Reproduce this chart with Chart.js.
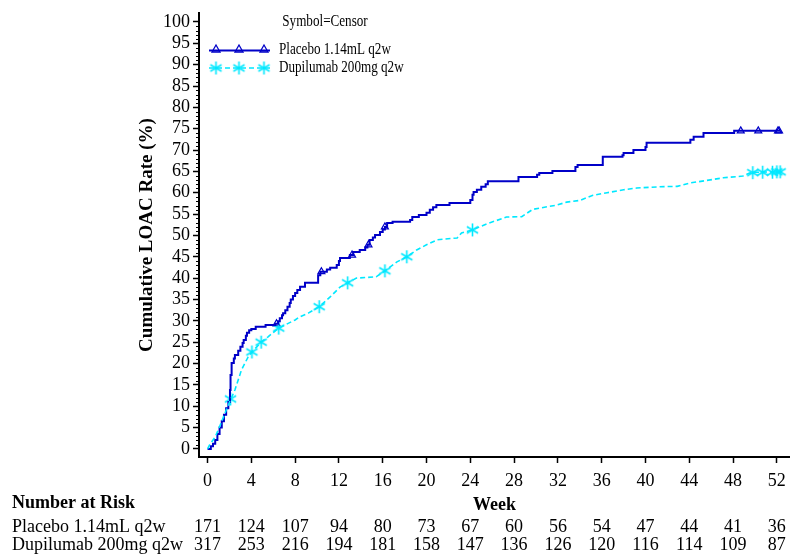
<!DOCTYPE html>
<html>
<head>
<meta charset="utf-8">
<script src="https://cdn.jsdelivr.net/npm/chart.js@4.4.1/dist/chart.umd.min.js"></script>
<style>
  html, body { margin: 0; padding: 0; background: #fff; }
  #wrap { width: 790px; height: 556px; position: relative; }
</style>
</head>
<body>
<div id="wrap"><canvas id="km"></canvas></div>
<script>
// axis ticks
const weekTicks = [0, 4, 8, 12, 16, 20, 24, 28, 32, 36, 40, 44, 48, 52];
const pctTicks = [0, 5, 10, 15, 20, 25, 30, 35, 40, 45, 50, 55, 60, 65, 70, 75, 80, 85, 90, 95, 100];

const placeboLabel = 'Placebo 1.14mL q2w';
const dupiLabel = 'Dupilumab 200mg q2w';

// [week, cumulative %] at each event time
const placeboSteps = [
  [0, 0], [0.3, 0.6], [0.5, 1.2], [0.7, 2.1], [0.9, 3.5], [1.1, 5.0], [1.3, 6.5], [1.5, 8.0],
  [1.7, 9.5], [1.9, 11.0], [2.05, 13.8], [2.1, 17.3], [2.2, 20.1], [2.4, 21.2], [2.5, 22.0],
  [2.8, 23.0], [3.0, 23.9], [3.2, 24.8], [3.3, 25.5], [3.5, 26.5], [3.6, 27.2], [3.8, 27.8],
  [4.0, 28.1], [4.4, 28.6], [5.3, 29.0], [6.2, 29.3], [6.45, 29.9], [6.6, 30.6], [6.8, 31.3],
  [6.9, 31.8], [7.1, 32.5], [7.3, 33.3], [7.5, 34.2], [7.6, 35.0], [7.8, 35.8], [8.0, 36.5],
  [8.2, 37.2], [8.45, 38.0], [8.9, 38.9], [10.1, 40.7], [10.3, 41.5], [10.9, 42.0], [11.2, 42.4],
  [11.8, 43.1], [12.0, 44.0], [12.1, 44.7], [13.0, 45.4], [13.3, 46.1], [13.9, 46.6], [14.4, 47.2],
  [14.6, 47.8], [14.8, 48.9], [15.1, 49.5], [15.3, 50.1], [15.75, 50.8], [16.0, 51.4], [16.2, 52.0],
  [16.4, 52.9], [16.9, 53.2], [18.5, 53.6], [18.7, 54.3], [19.3, 54.8], [20.0, 55.3], [20.3, 56.0],
  [20.6, 56.6], [20.9, 57.1], [22.1, 57.6], [24.0, 58.3], [24.2, 59.5], [24.3, 60.2], [24.6, 60.7],
  [25.0, 61.4], [25.4, 62.0], [25.6, 62.7], [28.4, 63.7], [30.1, 64.2], [30.3, 64.6], [31.5, 65.1],
  [33.6, 66.0], [33.8, 66.5], [36.1, 68.4], [37.9, 68.8], [38.0, 69.3], [38.9, 70.0], [40.0, 70.7],
  [40.1, 71.7], [44.1, 72.4], [44.4, 73.1], [45.3, 74.0], [48.1, 74.5], [52.3, 74.5]
];

const dupiSteps = [
  [0, 0], [0.2, 1.0], [0.7, 2.8], [1.1, 5.2], [1.6, 8.4], [2.1, 11.5], [2.5, 13.8], [3.1, 18.5],
  [3.7, 21.5], [4.05, 22.7], [4.5, 23.9], [4.9, 25.0], [5.5, 26.2], [6.5, 28.3], [8.0, 30.2],
  [8.4, 30.9], [9.2, 31.8], [10.2, 33.3], [11.2, 35.6], [12.1, 37.9], [12.8, 38.9], [13.6, 40.0],
  [15.4, 40.3], [16.2, 41.7], [17.3, 43.8], [18.2, 45.0], [19.1, 46.6], [20.0, 47.8], [21.0, 49.0],
  [22.8, 49.4], [23.2, 50.6], [24.2, 51.3], [25.5, 52.7], [27.3, 54.3], [28.7, 54.4], [29.7, 56.1],
  [31.0, 56.7], [31.9, 57.1], [32.8, 57.8], [34.0, 58.2], [35.2, 59.4], [36.5, 60.0], [38.0, 60.7],
  [39.2, 61.1], [41.3, 61.4], [42.9, 61.5], [44.1, 62.3], [45.4, 62.8], [47.1, 63.5], [48.9, 63.9],
  [49.5, 64.6], [50.0, 64.8], [52.5, 64.9]
];

// censored observations
const placeboCensor = [
  [6.3, 29.3], [10.4, 41.5], [13.2, 45.4], [14.7, 47.8], [16.2, 52.0],
  [48.7, 74.5], [50.3, 74.5], [52.1, 74.5], [52.2, 74.5]
];
const dupiCensor = [
  [2.1, 11.7], [4.05, 22.7], [4.9, 25.0], [6.5, 28.3], [10.2, 33.3], [12.8, 38.9], [16.2, 41.7],
  [18.2, 45.0], [24.2, 51.3], [49.8, 64.7], [50.7, 64.8], [51.6, 64.8], [52.0, 64.9], [52.3, 64.9]
];

// number at risk at each week tick
const riskPlacebo = [171, 124, 107, 94, 80, 73, 67, 60, 56, 54, 47, 44, 41, 36];
const riskDupi = [317, 253, 216, 194, 181, 158, 147, 136, 126, 120, 116, 114, 109, 87];

const BLUE = '#0000C8';
const CYAN = '#00E8FF';
const FONT = "'Liberation Serif', 'DejaVu Serif', serif";

function makeAsterisk(size, color, lw) {
  const c = document.createElement('canvas');
  c.width = c.height = size;
  const g = c.getContext('2d');
  g.strokeStyle = color;
  g.lineWidth = lw;
  const m = size / 2, r = size / 2 - 1;
  g.beginPath();
  for (let k = 0; k < 3; k++) {
    const a = Math.PI / 2 + k * Math.PI / 3;
    g.moveTo(m + r * Math.cos(a), m + r * Math.sin(a));
    g.lineTo(m - r * Math.cos(a), m - r * Math.sin(a));
  }
  g.stroke();
  return c;
}
const asterisk = makeAsterisk(15, CYAN, 1.6);

function drawTriangle(ctx, x, y, s) {
  ctx.beginPath();
  ctx.moveTo(x, y - s);
  ctx.lineTo(x + s, y + s * 0.75);
  ctx.lineTo(x - s, y + s * 0.75);
  ctx.closePath();
  ctx.stroke();
}

const toXY = arr => arr.map(([x, y]) => ({ x, y }));

const extras = {
  id: 'extras',
  afterDraw(chart) {
    const { ctx, chartArea, scales: { x, y } } = chart;
    ctx.save();

    // minor ticks on the y axis
    ctx.strokeStyle = '#000';
    ctx.lineWidth = 1;
    for (let v = 0; v <= 100; v++) {
      if (v % 5 === 0) continue;
      const py = Math.round(y.getPixelForValue(v)) + 0.5;
      ctx.beginPath();
      ctx.moveTo(chartArea.left - 3, py);
      ctx.lineTo(chartArea.left, py);
      ctx.stroke();
    }

    // legend
    ctx.fillStyle = '#000';
    ctx.textBaseline = 'middle';
    const cond = (txt, tx, ty, align) => {
      ctx.save();
      ctx.translate(tx, ty);
      ctx.scale(0.82, 1);
      ctx.textAlign = align;
      ctx.fillText(txt, 0, 0);
      ctx.restore();
    };
    ctx.font = '16px ' + FONT;
    cond('Symbol=Censor', 325, 22, 'center');
    cond(placeboLabel, 279, 50, 'left');
    cond(dupiLabel, 279, 68, 'left');

    ctx.strokeStyle = BLUE;
    ctx.lineWidth = 2;
    ctx.beginPath();
    ctx.moveTo(209, 50.5);
    ctx.lineTo(270, 50.5);
    ctx.stroke();
    ctx.lineWidth = 1.3;
    [216, 239, 264].forEach(px => drawTriangle(ctx, px, 49, 4));

    ctx.strokeStyle = CYAN;
    ctx.lineWidth = 1.6;
    ctx.setLineDash([5, 3]);
    ctx.beginPath();
    ctx.moveTo(209, 68);
    ctx.lineTo(270, 68);
    ctx.stroke();
    ctx.setLineDash([]);
    [216, 239, 264].forEach(px => ctx.drawImage(asterisk, px - 7.5, 68 - 7.5));

    // x axis title
    ctx.fillStyle = '#000';
    ctx.font = 'bold 18px ' + FONT;
    ctx.textAlign = 'center';
    ctx.fillText('Week', (chartArea.left + chartArea.right) / 2, 505);

    // number at risk table
    ctx.textAlign = 'left';
    ctx.fillText('Number at Risk', 12, 503);
    ctx.font = '18px ' + FONT;
    ctx.fillText(placeboLabel, 12, 527);
    ctx.fillText(dupiLabel, 12, 545);
    ctx.textAlign = 'center';
    weekTicks.forEach((w, i) => {
      const px = x.getPixelForValue(w);
      ctx.fillText(String(riskPlacebo[i]), px, 527);
      ctx.fillText(String(riskDupi[i]), px, 545);
    });
    ctx.restore();
  }
};

new Chart(document.getElementById('km'), {
  type: 'line',
  data: {
    datasets: [
      {
        label: dupiLabel,
        data: toXY(dupiSteps),
        borderColor: CYAN,
        borderWidth: 1.6,
        borderDash: [5, 3],
        pointRadius: 0,
        fill: false
      },
      {
        label: placeboLabel,
        data: toXY(placeboSteps),
        borderColor: BLUE,
        borderWidth: 2,
        stepped: true,
        pointRadius: 0,
        fill: false
      },
      {
        label: 'dupi censor',
        data: toXY(dupiCensor),
        showLine: false,
        pointStyle: asterisk,
        pointRadius: 7
      },
      {
        label: 'placebo censor',
        data: toXY(placeboCensor),
        showLine: false,
        pointStyle: 'triangle',
        pointRadius: 4,
        borderColor: BLUE,
        borderWidth: 1.2,
        backgroundColor: 'rgba(0,0,0,0)'
      }
    ]
  },
  options: {
    responsive: true,
    maintainAspectRatio: false,
    animation: false,
    layout: { autoPadding: false, padding: { top: 13, right: 0, left: 0, bottom: 0 } },
    plugins: {
      legend: { display: false },
      tooltip: { enabled: false }
    },
    scales: {
      x: {
        type: 'linear',
        min: -0.78,
        max: 53.2,
        afterBuildTicks: s => { s.ticks = weekTicks.map(v => ({ value: v })); },
        afterFit: s => { s.height = 99; s.paddingLeft = 0; s.paddingRight = 0; },
        grid: { drawOnChartArea: false, tickLength: 6, tickColor: '#000', tickWidth: 1.5 },
        border: { color: '#000', width: 2 },
        ticks: { color: '#000', font: { family: FONT, size: 18 }, padding: 7, maxRotation: 0, autoSkip: false }
      },
      y: {
        min: -1.9,
        max: 102.1,
        afterBuildTicks: s => { s.ticks = pctTicks.map(v => ({ value: v })); },
        afterFit: s => { s.width = 199; s.paddingTop = 0; s.paddingBottom = 0; },
        grid: { drawOnChartArea: false, tickLength: 6, tickColor: '#000', tickWidth: 1.5 },
        border: { color: '#000', width: 2 },
        ticks: { color: '#000', font: { family: FONT, size: 18 }, padding: 3, autoSkip: false },
        title: {
          display: true,
          text: 'Cumulative LOAC Rate (%)',
          color: '#000',
          font: { family: FONT, size: 19, weight: 'bold' },
          padding: { top: 136, bottom: 0 }
        }
      }
    }
  },
  plugins: [extras]
});
</script>
</body>
</html>
